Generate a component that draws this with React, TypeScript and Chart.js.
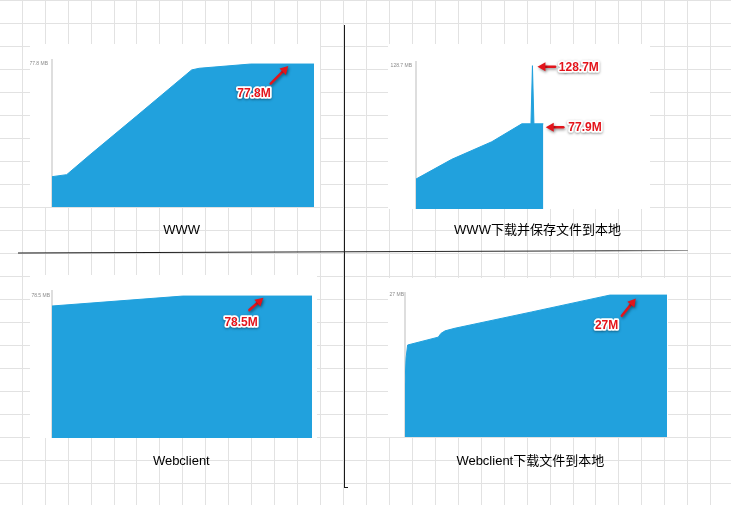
import React, { useEffect, useRef } from 'react';
import { Chart, registerables } from 'chart.js';

Chart.register(...registerables);

const FONT = '"Liberation Sans", Arial, "Noto Sans CJK SC", sans-serif';
const BLUE = '#21a1dd';
const RED = '#e3141b';

// ---- Data (time in % of recording, memory in MB) ----
// Panel 1: WWW
const wwwTime = [0, 5.6, 14.5, 32.3, 53.3, 56.2, 75.8, 100];
const wwwMem = [16.5, 17.6, 28.4, 49.5, 74.6, 75.5, 77.8, 77.8];
const wwwTick = 77.8;
const wwwTickLabel = '77.8 MB';
const wwwNote = '77.8M';

// Panel 2: WWW下载并保存文件到本地
const saveTime = [0, 15.6, 33.1, 46.2, 50.2, 50.85, 51.5, 55.6];
const saveMem = [26.9, 44.6, 60.4, 76.5, 76.5, 128.7, 76.5, 76.5];
const saveTick = 128.7;
const saveTickLabel = '128.7 MB';
const saveNotes = ['128.7M', '77.9M'];

// Panel 3: Webclient
const clientTime = [0, 50.3, 100];
const clientMem = [73.0, 78.5, 78.5];
const clientTick = 78.5;
const clientTickLabel = '78.5 MB';
const clientNote = '78.5M';

// Panel 4: Webclient下载文件到本地
const clientSaveTime = [0, 0.4, 1.0, 12.7, 13.7, 15.3, 19.1, 48.4, 76.3, 78.2, 100];
const clientSaveMem = [10, 15, 17.5, 19.0, 19.7, 20.2, 20.7, 23.8, 26.8, 27.0, 27.0];
const clientSaveTick = 27;
const clientSaveTickLabel = '27 MB';
const clientSaveNote = '27M';

const titles = ['WWW', 'WWW下载并保存文件到本地', 'Webclient', 'Webclient下载文件到本地'];

type Note = {
  text: string; t: number; v: number;
  tip: [number, number]; tail: [number, number]; label: [number, number];
};

type PanelCfg = {
  left: number; top: number; width: number; height: number;
  axisW: number; tickPad: number; padTop: number; padRight: number;
  yMax: number; tick: number; tickLabel: string;
  times: number[]; values: number[]; notes: Note[];
};

const panels: PanelCfg[] = [
  {
    left: 30, top: 44, width: 290, height: 163, axisW: 22, tickPad: 4, padTop: 16, padRight: 6,
    yMax: 80, tick: wwwTick, tickLabel: wwwTickLabel, times: wwwTime, values: wwwMem,
    notes: [{ text: wwwNote, t: 90.2, v: 77.8, tip: [0, 2], tail: [-17.6, 17.6], label: [-34.3, 27.3] }],
  },
  {
    left: 388, top: 44, width: 262, height: 165, axisW: 28, tickPad: 4, padTop: 18, padRight: 5,
    yMax: 132, tick: saveTick, tickLabel: saveTickLabel, times: saveTime, values: saveMem,
    notes: [
      { text: saveNotes[0], t: 50.85, v: 128.7, tip: [5, 1], tail: [17.7, 0], label: [41.4, 0.8] },
      { text: saveNotes[1], t: 55.6, v: 76.5, tip: [2.4, 3.5], tail: [17.6, 0], label: [39.3, 0.7] },
    ],
  },
  {
    left: 30, top: 275, width: 287, height: 163, axisW: 22, tickPad: 2, padTop: 16, padRight: 5,
    yMax: 81.3, tick: clientTick, tickLabel: clientTickLabel, times: clientTime, values: clientMem,
    notes: [{ text: clientNote, t: 81.3, v: 78.5, tip: [0, 1.7], tail: [-14, 12.3], label: [-22.3, 24.8] }],
  },
  {
    left: 388, top: 278, width: 280, height: 159, axisW: 17, tickPad: 1, padTop: 15, padRight: 1,
    yMax: 27.4, tick: clientSaveTick, tickLabel: clientSaveTickLabel, times: clientSaveTime, values: clientSaveMem,
    notes: [{ text: clientSaveNote, t: 88.1, v: 27, tip: [0, 3.3], tail: [-14, 17.4], label: [-29.2, 27.7] }],
  },
];

const titlePos = [
  { cx: 181.7, base: 234 },
  { cx: 537.5, base: 234 },
  { cx: 181.3, base: 465 },
  { cx: 530.3, base: 465 },
];

function drawArrow(ctx: CanvasRenderingContext2D, x1: number, y1: number, x2: number, y2: number) {
  const a = Math.atan2(y2 - y1, x2 - x1);
  const head = 8, hw = 4.5;
  const bx = x2 - head * Math.cos(a), by = y2 - head * Math.sin(a);
  ctx.save();
  ctx.shadowColor = 'rgba(0,0,0,0.45)';
  ctx.shadowBlur = 3;
  ctx.shadowOffsetX = 1;
  ctx.shadowOffsetY = 1.5;
  ctx.strokeStyle = RED;
  ctx.fillStyle = RED;
  ctx.lineWidth = 2.5;
  ctx.lineCap = 'round';
  ctx.beginPath();
  ctx.moveTo(x1, y1);
  ctx.lineTo(bx, by);
  ctx.stroke();
  ctx.beginPath();
  ctx.moveTo(x2, y2);
  ctx.lineTo(bx - hw * Math.sin(a), by + hw * Math.cos(a));
  ctx.lineTo(bx + hw * Math.sin(a), by - hw * Math.cos(a));
  ctx.closePath();
  ctx.fill();
  ctx.restore();
}

function drawLabel(ctx: CanvasRenderingContext2D, text: string, x: number, y: number) {
  ctx.save();
  ctx.font = `bold 12px ${FONT}`;
  ctx.textAlign = 'center';
  ctx.textBaseline = 'middle';
  ctx.lineJoin = 'round';
  ctx.shadowColor = 'rgba(0,0,0,0.4)';
  ctx.shadowBlur = 2.5;
  ctx.shadowOffsetY = 1;
  ctx.strokeStyle = '#ffffff';
  ctx.lineWidth = 3.5;
  ctx.strokeText(text, x, y);
  ctx.shadowColor = 'transparent';
  ctx.fillStyle = RED;
  ctx.fillText(text, x, y);
  ctx.restore();
}

function PanelChart({ cfg }: { cfg: PanelCfg }) {
  const ref = useRef<HTMLCanvasElement>(null);
  useEffect(() => {
    const canvas = ref.current;
    if (!canvas) return;
    const bg = {
      id: 'whiteBg',
      beforeDraw(chart: any) {
        const c = chart.ctx;
        c.save();
        c.fillStyle = '#ffffff';
        c.fillRect(0, 0, chart.width, chart.height);
        c.restore();
      },
    };
    const notes = {
      id: 'notes',
      afterDatasetsDraw(chart: any) {
        const ctx = chart.ctx as CanvasRenderingContext2D;
        const xs = chart.scales.x, ys = chart.scales.y;
        cfg.notes.forEach((n) => {
          const tx = xs.getPixelForValue(n.t) + n.tip[0];
          const ty = ys.getPixelForValue(n.v) + n.tip[1];
          drawArrow(ctx, tx + n.tail[0], ty + n.tail[1], tx, ty);
          drawLabel(ctx, n.text, tx + n.label[0], ty + n.label[1]);
        });
      },
    };
    const chart = new Chart(canvas, {
      type: 'line',
      data: {
        datasets: [{
          data: cfg.times.map((t, i) => ({ x: t, y: cfg.values[i] })),
          fill: 'origin',
          backgroundColor: BLUE,
          borderColor: BLUE,
          borderWidth: 1,
          pointRadius: 0,
          tension: 0,
        }],
      },
      options: {
        responsive: false,
        animation: false,
        devicePixelRatio: 1,
        layout: { padding: { top: cfg.padTop, right: cfg.padRight, bottom: 0, left: 0 } },
        plugins: { legend: { display: false }, tooltip: { enabled: false } },
        scales: {
          x: { type: 'linear', min: 0, max: 100, display: false },
          y: {
            min: 0,
            max: cfg.yMax,
            grid: { display: false, drawTicks: false, tickLength: 0 },
            border: { display: true, color: '#dedede', width: 2 },
            ticks: {
              font: { size: 5, family: FONT },
              color: '#8a8a8a',
              padding: cfg.tickPad,
              callback: () => cfg.tickLabel,
            },
            afterBuildTicks: (s: any) => { s.ticks = [{ value: cfg.tick }]; },
            afterFit: (s: any) => { s.width = cfg.axisW; s.paddingTop = 0; s.paddingBottom = 0; },
          },
        },
      } as any,
      plugins: [bg, notes],
    });
    return () => chart.destroy();
  }, [cfg]);
  return (
    <canvas
      ref={ref}
      width={cfg.width}
      height={cfg.height}
      style={{ position: 'absolute', left: cfg.left, top: cfg.top, width: cfg.width, height: cfg.height }}
    />
  );
}

export default function App() {
  const bgRef = useRef<HTMLCanvasElement>(null);
  useEffect(() => {
    const c = bgRef.current;
    if (!c) return;
    const ctx = c.getContext('2d');
    if (!ctx) return;
    ctx.fillStyle = '#ffffff';
    ctx.fillRect(0, 0, 731, 505);
    ctx.strokeStyle = '#e2e2e2';
    ctx.lineWidth = 1;
    ctx.beginPath();
    for (let k = 0; k < 40; k++) {
      const x = Math.round(21.7 + 22.95 * k) + 0.5;
      if (x > 731) break;
      ctx.moveTo(x, 0);
      ctx.lineTo(x, 505);
    }
    for (let k = 0; k < 30; k++) {
      const y = 23 * k + 0.5;
      if (y > 505) break;
      ctx.moveTo(0, y);
      ctx.lineTo(731, y);
    }
    ctx.stroke();
    // divider lines
    ctx.strokeStyle = '#1a1a1a';
    ctx.beginPath();
    ctx.moveTo(344.5, 25);
    ctx.lineTo(344.5, 488);
    ctx.moveTo(344, 487.5);
    ctx.lineTo(348, 487.5);
    ctx.stroke();
    const g = ctx.createLinearGradient(18, 0, 688, 0);
    g.addColorStop(0, '#1a1a1a');
    g.addColorStop(0.88, '#2a2a2a');
    g.addColorStop(1, '#9a9a9a');
    ctx.strokeStyle = g;
    ctx.lineWidth = 1.2;
    ctx.beginPath();
    ctx.moveTo(18, 253);
    ctx.lineTo(688, 250.5);
    ctx.stroke();
  }, []);

  return (
    <div style={{ position: 'fixed', left: 0, top: 0, width: 731, height: 505, overflow: 'hidden', background: '#fff' }}>
      <canvas ref={bgRef} width={731} height={505} style={{ position: 'absolute', left: 0, top: 0, width: 731, height: 505 }} />
      {panels.map((p, i) => <PanelChart key={i} cfg={p} />)}
      {titles.map((t, i) => (
        <div
          key={t}
          style={{
            position: 'absolute',
            left: titlePos[i].cx - 150,
            width: 300,
            top: titlePos[i].base - 12,
            textAlign: 'center',
            font: `13px ${FONT}`,
            lineHeight: '15px',
            whiteSpace: 'nowrap',
            color: '#000',
          }}
        >
          {t}
        </div>
      ))}
    </div>
  );
}
